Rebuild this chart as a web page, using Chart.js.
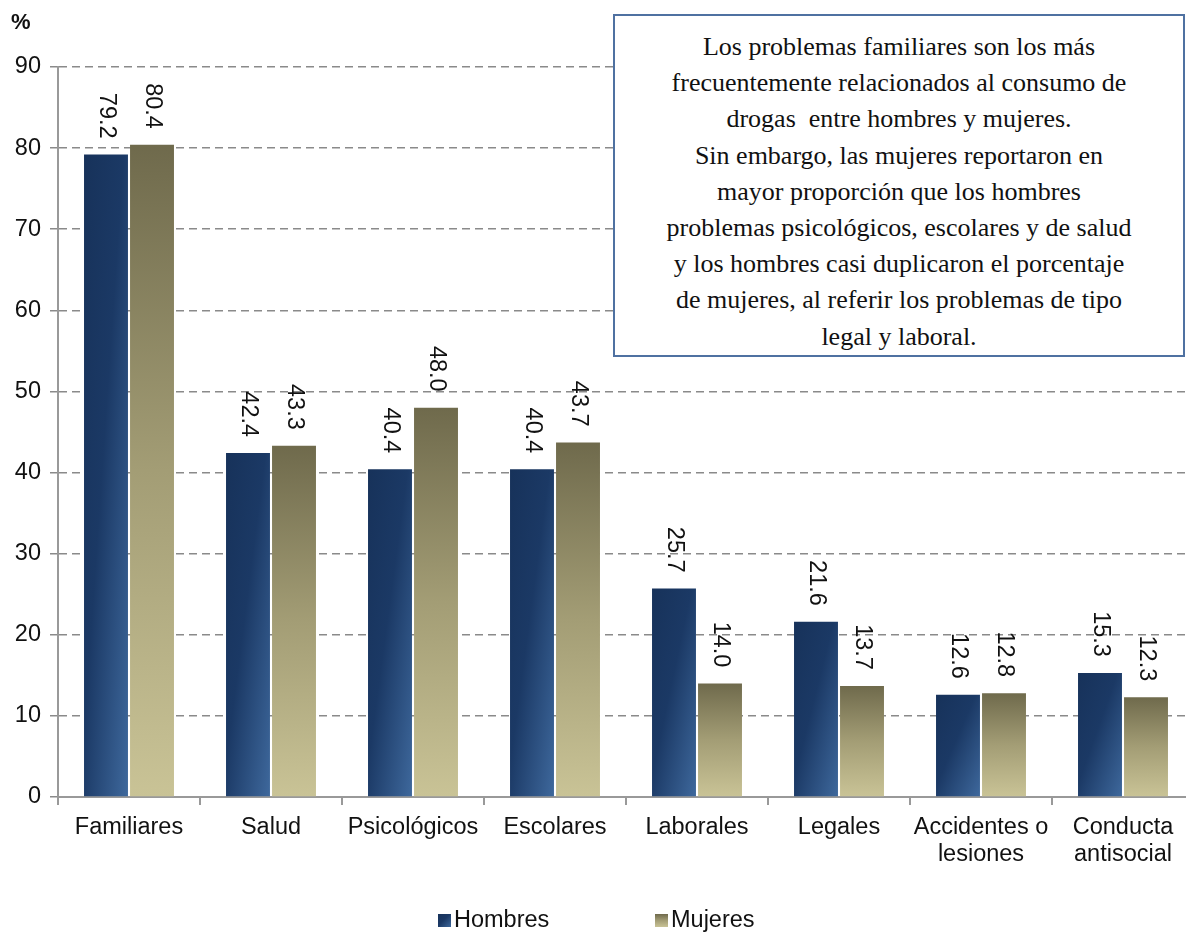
<!DOCTYPE html>
<html>
<head>
<meta charset="utf-8">
<script src="https://cdn.jsdelivr.net/npm/chart.js@4.4.1/dist/chart.umd.min.js"></script>
<style>
  html, body { margin: 0; padding: 0; background: #fff; overflow: hidden; }
  #wrap { position: relative; width: 1194px; height: 934px; }
  #note {
    position: absolute; left: 613px; top: 14px; width: 572px; height: 343px;
    box-sizing: border-box; border: 2px solid #4f71a1; background: #fff;
    font-family: "Liberation Serif", serif; font-size: 26px; line-height: 36.2px;
    text-align: center; color: #111; padding-top: 13px; white-space: nowrap;
  }
</style>
</head>
<body>
<div id="wrap">
  <canvas id="problemsChart"></canvas>
  <div id="note">
    Los problemas familiares son los más<br>
    frecuentemente relacionados al consumo de<br>
    drogas&nbsp; entre hombres y mujeres.<br>
    Sin embargo, las mujeres reportaron en<br>
    mayor proporción que los hombres<br>
    problemas psicológicos, escolares y de salud<br>
    y los hombres casi duplicaron el porcentaje<br>
    de mujeres, al referir los problemas de tipo<br>
    legal y laboral.
  </div>
</div>
<script>
const categories = ['Familiares', 'Salud', 'Psicológicos', 'Escolares', 'Laborales', 'Legales',
  ['Accidentes o', 'lesiones'], ['Conducta', 'antisocial']];
const hombres = [79.2, 42.4, 40.4, 40.4, 25.7, 21.6, 12.6, 15.3];
const mujeres = [80.4, 43.3, 48.0, 43.7, 14.0, 13.7, 12.8, 12.3];
const seriesNames = ['Hombres', 'Mujeres'];
const yMin = 0, yMax = 90, yStep = 10;
const unitLabel = '%';

const FONT = '"Liberation Sans", Arial, sans-serif';

// diagonal gradient that follows the bar's box (top-left dark -> bottom-right light)
function hombresFill(ctx, left, top, right, bottom) {
  const w = right - left, h = bottom - top;
  const t = (2 * w * h) / (w * w + h * h || 1);
  const g = ctx.createLinearGradient(left, top, left + t * h, top + t * w);
  g.addColorStop(0, '#17325a');
  g.addColorStop(0.45, '#1b3965');
  g.addColorStop(1, '#3e689c');
  return g;
}

function mujeresFill(ctx, left, top, right, bottom) {
  const g = ctx.createLinearGradient(0, top, 0, bottom);
  g.addColorStop(0, '#6f6a4c');
  g.addColorStop(0.5, '#a39d75');
  g.addColorStop(1, '#c9c396');
  return g;
}

const fills = [hombresFill, mujeresFill];

// per-bar gradients, set right before the bars are drawn
const barGradients = {
  id: 'barGradients',
  beforeDatasetsDraw(chart) {
    const ctx = chart.ctx;
    chart.data.datasets.forEach((ds, di) => {
      chart.getDatasetMeta(di).data.forEach(el => {
        const p = el.getProps(['x', 'y', 'base', 'width'], true);
        el.options.backgroundColor = fills[di](ctx, p.x - p.width / 2, p.y, p.x + p.width / 2, p.base);
      });
    });
  }
};

// rotated value labels above the bars
const valueLabels = {
  id: 'valueLabels',
  afterDatasetsDraw(chart) {
    const ctx = chart.ctx;
    ctx.save();
    ctx.font = '23.5px ' + FONT;
    ctx.fillStyle = '#111';
    ctx.textAlign = 'right';
    ctx.textBaseline = 'middle';
    chart.data.datasets.forEach((ds, di) => {
      chart.getDatasetMeta(di).data.forEach((el, i) => {
        ctx.save();
        ctx.translate(el.x, el.y - 16);
        ctx.rotate(Math.PI / 2);
        ctx.fillText(ds.data[i].toFixed(1), 0, 0);
        ctx.restore();
      });
    });
    ctx.restore();
  }
};

// unit label and bottom legend
const extras = {
  id: 'extras',
  afterDraw(chart) {
    const ctx = chart.ctx;
    ctx.save();
    ctx.fillStyle = '#111';
    ctx.font = 'bold 22px ' + FONT;
    ctx.textAlign = 'left';
    ctx.textBaseline = 'middle';
    ctx.fillText(unitLabel, 11, 23);

    const starts = [438, 655];
    ctx.font = '23.5px ' + FONT;
    seriesNames.forEach((name, i) => {
      const x = starts[i], y = 921;
      ctx.fillStyle = fills[i](ctx, x, y - 7, x + 13, y + 6);
      ctx.fillRect(x, y - 7, 13, 13);
      ctx.fillStyle = '#111';
      ctx.fillText(name, x + 16, y);
    });
    ctx.restore();
  }
};

const chart = new Chart(document.getElementById('problemsChart'), {
  type: 'bar',
  data: {
    labels: categories,
    datasets: [
      { label: seriesNames[0], data: hombres, backgroundColor: () => '#1d3b68' },
      { label: seriesNames[1], data: mujeres, backgroundColor: () => '#a39d75' }
    ]
  },
  options: {
    responsive: true,
    maintainAspectRatio: false,
    animation: false,
    categoryPercentage: 0.648,
    barPercentage: 0.955,
    layout: { padding: { top: 67, left: 0, right: 0, bottom: 0 } },
    plugins: { legend: { display: false }, tooltip: { enabled: false } },
    scales: {
      x: {
        afterFit: s => { s.height = 137; },
        grid: { drawOnChartArea: false, drawTicks: true, tickLength: 8, color: '#999', lineWidth: 2 },
        border: { color: '#999', width: 2 },
        ticks: { color: '#111', padding: 9, font: { family: FONT, size: 23.5, lineHeight: 1.15 }, maxRotation: 0, autoSkip: false }
      },
      y: {
        min: yMin,
        max: yMax,
        afterFit: s => { s.width = 58; },
        grid: { color: '#8a8a8a', lineWidth: 1.5, tickLength: 8, tickBorderDash: [] },
        border: { color: '#999', width: 2, dash: [8, 5] },
        ticks: { stepSize: yStep, color: '#111', padding: 9, font: { family: FONT, size: 23.5 } }
      }
    }
  },
  plugins: [barGradients, valueLabels, extras]
});
</script>
</body>
</html>
